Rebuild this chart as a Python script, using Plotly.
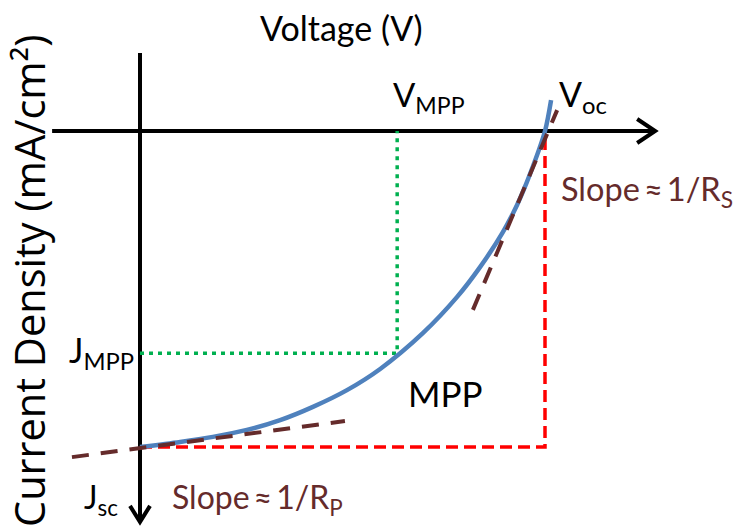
import plotly.graph_objects as go

# ---- schematic J-V data (voltage in units of Voc, current in units of Jsc; J positive downward)
voltage = [0.0, 0.099, 0.180, 0.264, 0.346, 0.427, 0.511, 0.593, 0.699, 0.783, 0.840, 0.896, 0.931, 0.963, 1.0, 1.015]
current = [1.0, 0.984, 0.968, 0.946, 0.915, 0.873, 0.820, 0.753, 0.639, 0.525, 0.430, 0.320, 0.234, 0.136, 0.0, -0.098]
mpp_v, mpp_j = 0.635, 0.703
voc, jsc = 1.0, 1.0
rp_v = [-0.168, 0.506]
rp_j = [1.032, 0.918]
rs_v = [0.822, 1.030]
rs_j = [0.566, -0.066]
v_axis = [-0.217, 1.272]
j_axis = [-0.247, 1.237]

W, H = 742, 531
PXV, PXJ = 405.0, 316.0          # pixels per unit
X0, Y0 = 140.0, 131.0            # pixel origin
xr = [-X0 / PXV, (W - X0) / PXV]
yr = [(H - Y0) / PXJ, -Y0 / PXJ]  # reversed: J positive downward

FONT = "Lato, Liberation Sans, sans-serif"
BROWN = "#652b2b"
TS = "\u2009"  # thin space

fig = go.Figure()

def line(x, y, color, width, dash="solid", shape="linear"):
    fig.add_trace(go.Scatter(x=x, y=y, mode="lines", hoverinfo="skip",
                             line=dict(color=color, width=width, dash=dash, shape=shape,
                                       smoothing=0.8)))

# axes
line(v_axis, [0, 0], "black", 4)
line([0, 0], j_axis, "black", 4)
# arrowheads (open chevrons)
ax, ay = 18 / PXV, 12 / PXJ
line([v_axis[1] - ax, v_axis[1], v_axis[1] - ax], [-ay, 0, ay], "black", 4)
bx, by = 10 / PXV, 16 / PXJ
line([-bx, 0, bx], [j_axis[1] - by, j_axis[1], j_axis[1] - by], "black", 4)

# red rectangle (Voc x Jsc)
line([0, voc, voc], [jsc, jsc, 0], "#ff0000", 3.5, dash="12px,6px")
# green MPP guides
line([0, mpp_v, mpp_v], [mpp_j, mpp_j, 0], "#00b050", 3.5, dash="4px,5px")
# J-V curve
line(voltage, current, "#4f81bd", 4.5, shape="spline")
# slope tangents
line(rp_v, rp_j, BROWN, 4, dash="17px,12px")
line(rs_v, rs_j, BROWN, 4, dash="17px,12px")

def label(x, y, text, size, color="black", xanchor="left", yanchor="middle", family=FONT):
    fig.add_annotation(x=x, y=y, text=text, showarrow=False, xanchor=xanchor, yanchor=yanchor,
                       font=dict(family=family, size=size, color=color))

label(mpp_v - 0.015, -0.11, "V<sub>MPP</sub>", 33)
label(voc + 0.03, -0.11, "V<sub>oc</sub>", 34)
label(-0.01, mpp_j - 0.005, "J<sub>MPP</sub>", 34, xanchor="right")
label(-0.05, jsc + 0.165, "J<sub>sc</sub>", 32, xanchor="right")
label(0.755, 0.83, "MPP", 35, xanchor="center")
label(voc + 0.035, 0.19, f"Slope{TS}≈{TS}1/R<sub>S</sub>", 32.5, color=BROWN)
label(0.075, jsc + 0.165, f"Slope{TS}≈{TS}1/R<sub>P</sub>", 32, color=BROWN)

fig.add_annotation(x=(262 + 420) / 2 / W, y=1 - 28 / H, xref="paper", yref="paper",
                   xanchor="center", yanchor="middle",
                   text="Voltage (V)", showarrow=False, font=dict(family=FONT, size=34, color="black"))
fig.add_annotation(x=29 / W, y=1 - 281 / H, xref="paper", yref="paper", textangle=-90,
                   xanchor="center", yanchor="middle",
                   text="Current Density (mA/cm²)", showarrow=False,
                   font=dict(family="Open Sans, sans-serif", size=41.5, color="black"))

fig.update_layout(width=W, height=H, margin=dict(l=0, r=0, t=0, b=0), showlegend=False,
                  plot_bgcolor="white", paper_bgcolor="white")
fig.update_xaxes(range=xr, visible=False, fixedrange=True)
fig.update_yaxes(range=yr, visible=False, fixedrange=True)
fig.write_html("out.html")
